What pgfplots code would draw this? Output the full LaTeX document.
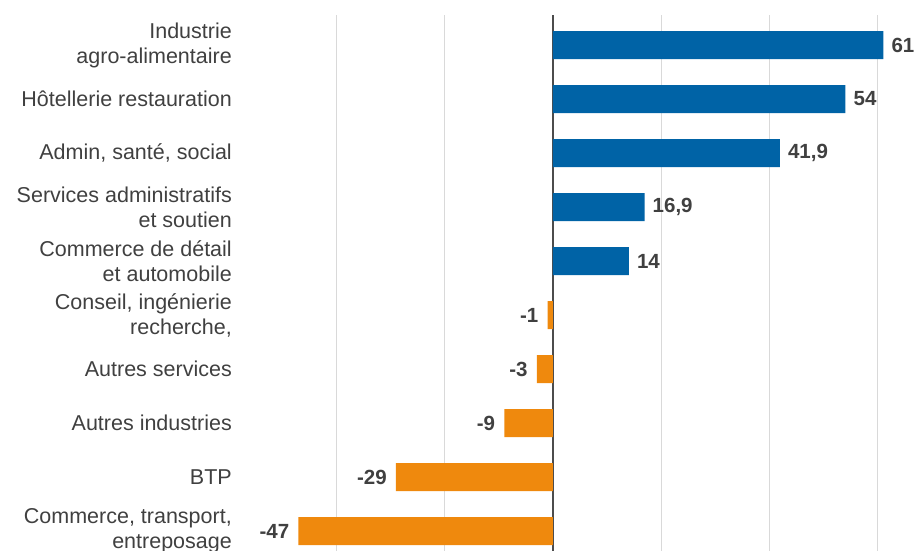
\documentclass[border=0pt]{standalone}
\usepackage{pgfplots}
\pgfplotsset{compat=1.18}
\usepackage{fontspec}
\setmainfont{Liberation Sans}
\definecolor{barblue}{HTML}{0063A6}
\definecolor{barorange}{HTML}{EF890D}
\definecolor{txt}{HTML}{404040}
\begin{document}
\begin{tikzpicture}
\begin{axis}[
 at={(0,0)}, anchor=south west,
 scale only axis, width=660pt, height=536pt,
 xbar, bar width=28pt, bar shift=0pt,
 xmin=-57.8, xmax=64.08,
 ymin=-0.556, ymax=9.37, y dir=reverse,
 axis line style={draw=none},
 major tick length=0pt,
 xtick={-40,-20,20,40,60}, xticklabels={},
 xmajorgrids, grid style={draw=black!15, line width=1pt},
 extra x ticks={0}, extra x tick labels={}, extra x tick style={grid style={draw=black!70, line width=1.3pt}},
 ytick={0,...,9},
 yticklabels={{Industrie\\agro-alimentaire},{Hôtellerie restauration},{Admin, santé, social},{Services administratifs\\et soutien},{Commerce de détail\\et automobile},{Conseil, ingénierie\\recherche,},{Autres services},{Autres industries},{BTP},{Commerce, transport,\\entreposage}},
 yticklabel style={align=right, font=\fontsize{21.5}{25}\selectfont, text=txt, inner sep=0pt, xshift=-8pt},
 point meta=explicit symbolic,
 nodes near coords,
 nodes near coords style={font=\fontsize{20.5}{24}\selectfont\bfseries, text=txt},
 clip=false,
]
\addplot[fill=barblue, draw=none, nodes near coords style={anchor=west, inner sep=0pt, xshift=8pt}] coordinates {(61,0) [61] (54,1) [54] (41.9,2) [{41,9}] (16.9,3) [{16,9}] (14,4) [14]};
\addplot[fill=barorange, draw=none, nodes near coords style={anchor=east, inner sep=0pt, xshift=-9pt}] coordinates {(-1,5) [-1] (-3,6) [-3] (-9,7) [-9] (-29,8) [-29] (-47,9) [-47]};
\end{axis}
\pgfresetboundingbox
\path[use as bounding box] (-240pt,0pt) rectangle (674pt,551pt);
\end{tikzpicture}
\end{document}
